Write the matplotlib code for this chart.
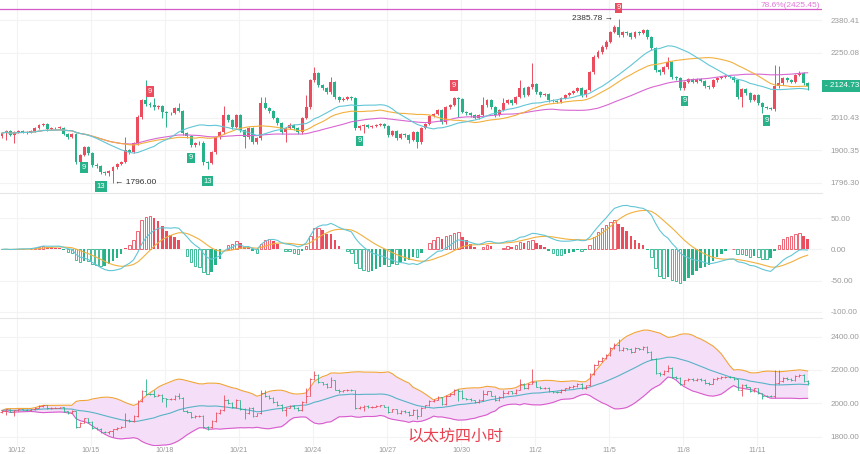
import numpy as np
import pandas as pd
import matplotlib
matplotlib.use("Agg")
import matplotlib.pyplot as plt
from matplotlib.lines import Line2D
from matplotlib.ticker import NullLocator, FuncFormatter
from matplotlib.transforms import blended_transform_factory

plt.rcParams['font.family'] = ['Liberation Sans', 'DejaVu Sans']

# 4h candles, open = previous close
first_open = 1947
closes = [1957, 1964, 1950, 1960, 1964, 1962, 1960, 1964, 1974, 1984,
          1988, 1971, 1974, 1975, 1976, 1954, 1944, 1954, 1861, 1884,
          1910, 1890, 1852, 1848, 1829, 1826, 1832, 1845, 1855, 1861,
          1900, 1894, 1923, 2012, 2072, 2058, 2054, 2047, 2051, 2030,
          2026, 2027, 2044, 2033, 1957, 1947, 1917, 1923, 1925, 1861,
          1859, 1894, 1944, 1960, 2019, 2002, 1978, 2019, 1967, 1944,
          1974, 1927, 1940, 2061, 2044, 2033, 2009, 1991, 1960, 1974,
          1984, 1974, 1960, 2009, 2047, 2145, 2172, 2127, 2116, 2101,
          2138, 2083, 2072, 2078, 2083, 2079, 1974, 1981, 1984, 1978,
          1981, 1984, 1988, 1981, 1950, 1964, 1940, 1954, 1950, 1933,
          1960, 1927, 1974, 1988, 2016, 2023, 2037, 1995, 2047, 2054,
          2079, 2076, 2030, 2026, 2019, 2009, 2019, 2054, 2072, 2047,
          2019, 2037, 2061, 2072, 2061, 2083, 2116, 2090, 2119, 2130,
          2101, 2090, 2094, 2072, 2069, 2067, 2079, 2090, 2097, 2105,
          2116, 2090, 2108, 2175, 2233, 2252, 2272, 2291, 2331, 2352,
          2319, 2331, 2327, 2311, 2331, 2327, 2339, 2311, 2268, 2183,
          2175, 2194, 2213, 2157, 2153, 2116, 2138, 2149, 2138, 2149,
          2142, 2123, 2119, 2145, 2153, 2157, 2160, 2157, 2145, 2083,
          2112, 2097, 2072, 2090, 2061, 2047, 2044, 2042, 2123, 2134,
          2153, 2145, 2138, 2164, 2172, 2134, 2124.73]
highs = [1962, 1968, 1967, 1963, 1968, 1969, 1966, 1968, 1978, 1990,
         1993, 1991, 1979, 1979, 1980, 1979, 1957, 1958, 1957, 1888,
         1915, 1914, 1893, 1858, 1852, 1834, 1837, 1849, 1858, 1866,
         1944, 1905, 1928, 2018, 2078, 2145, 2064, 2079, 2056, 2055,
         2034, 2031, 2048, 2061, 2037, 1961, 1950, 1928, 1929, 1929,
         1866, 1899, 1949, 1965, 2051, 2024, 2006, 2024, 2023, 1971,
         1979, 1978, 1945, 2083, 2083, 2049, 2037, 2013, 1995, 1979,
         1992, 1988, 1978, 2014, 2090, 2151, 2194, 2176, 2131, 2120,
         2156, 2142, 2087, 2083, 2088, 2087, 2083, 1986, 1989, 1988,
         1986, 1989, 1993, 1992, 1985, 1969, 1968, 1959, 1958, 1954,
         1965, 1964, 1979, 1993, 2021, 2028, 2042, 2041, 2052, 2060,
         2085, 2084, 2080, 2034, 2030, 2023, 2024, 2083, 2077, 2076,
         2051, 2042, 2079, 2077, 2076, 2088, 2145, 2120, 2124, 2209,
         2134, 2105, 2099, 2098, 2077, 2074, 2084, 2095, 2102, 2110,
         2121, 2120, 2113, 2181, 2239, 2259, 2279, 2298, 2338, 2360,
         2385.78, 2337, 2335, 2331, 2336, 2335, 2345, 2344, 2315, 2272,
         2188, 2199, 2233, 2217, 2162, 2157, 2143, 2154, 2153, 2154,
         2153, 2146, 2128, 2150, 2158, 2162, 2165, 2164, 2161, 2149,
         2117, 2116, 2101, 2095, 2094, 2065, 2051, 2049, 2202, 2198,
         2158, 2158, 2150, 2169, 2178, 2176, 2138]
lows = [1942, 1933, 1946, 1923, 1956, 1958, 1955, 1957, 1961, 1970,
        1980, 1966, 1967, 1970, 1971, 1950, 1938, 1940, 1855, 1856,
        1880, 1885, 1846, 1842, 1823, 1820, 1818, 1796, 1840, 1851,
        1857, 1889, 1890, 1918, 2006, 2052, 2049, 2037, 2042, 2009,
        1978, 2020, 2022, 2029, 1952, 1941, 1912, 1912, 1918, 1852,
        1840, 1854, 1889, 1938, 1955, 1997, 1972, 1974, 1961, 1907,
        1939, 1921, 1922, 1935, 2039, 2028, 2004, 1986, 1955, 1927,
        1970, 1969, 1955, 1955, 2004, 2042, 2140, 2121, 2110, 2095,
        2096, 2078, 2065, 2068, 2074, 2074, 1968, 1969, 1957, 1973,
        1974, 1977, 1980, 1976, 1945, 1946, 1935, 1936, 1945, 1923,
        1929, 1907, 1922, 1970, 1984, 2011, 2019, 1990, 1990, 2042,
        2050, 2012, 2025, 2021, 2014, 2004, 2005, 2015, 2049, 2042,
        2014, 2015, 2032, 2057, 2056, 2057, 2079, 2085, 2086, 2114,
        2096, 2085, 2086, 2067, 2064, 2062, 2063, 2075, 2086, 2093,
        2101, 2085, 2085, 2104, 2170, 2228, 2246, 2266, 2286, 2326,
        2313, 2313, 2321, 2305, 2306, 2321, 2322, 2305, 2262, 2177,
        2165, 2170, 2189, 2151, 2147, 2108, 2110, 2134, 2133, 2134,
        2137, 2117, 2113, 2115, 2140, 2149, 2153, 2152, 2140, 2078,
        2047, 2092, 2067, 2068, 2056, 2026, 2039, 2036, 2034, 2118,
        2129, 2140, 2133, 2134, 2159, 2129, 2108]

price_ticks = [1796.30, 1900.35, 2010.43, 2250.08, 2380.41]
macd_ticks = [-100, -50, 0, 50]
boll_ticks = [1800, 2000, 2200, 2400]
date_labels = ["10/12", "10/15", "10/18", "10/21", "10/24", "10/27",
               "10/30", "11/2", "11/5", "11/8", "11/11"]
fib_level = 2425.45
fib_text = "78.6%(2425.45)"
td9_top = [36, 110, 150]
td9_bottom = [20, 46, 87, 166, 186]
td13_bottom = [24, 50]

RED = '#ec4d5e'
GREEN = '#27b28a'
CYAN = '#62c6d6'
ORANGE = '#f2b03e'
MAGENTA = '#d867d2'
GRID = '#f3f3f3'
TICK = '#9a9a9a'

closes = np.array(closes, dtype=float)
highs = np.array(highs, dtype=float)
lows = np.array(lows, dtype=float)
opens = np.concatenate([[first_open], closes[:-1]])
n = len(closes)
idx = np.arange(n)
up = closes >= opens
colors = np.where(up, RED, GREEN)

W, H = 860, 454
fig = plt.figure(figsize=(W / 100, H / 100), dpi=100)


def panel(top, bottom, right=822):
    return fig.add_axes([0, 1 - bottom / H, right / W, (bottom - top) / H])


ax = panel(0, 192)
ax_macd = panel(193, 318)
ax_boll = panel(318, 446)

vgrid = 3.65 + 18 * np.arange(12)
for a in (ax, ax_macd, ax_boll):
    a.set_xlim(-0.49, 199.5)
    for s in a.spines.values():
        s.set_visible(False)
    a.set_xticks([])
    a.yaxis.tick_right()
    a.tick_params(axis='y', length=0, pad=6, labelsize=5.8, labelcolor=TICK)
    a.grid(axis='y', color=GRID, lw=0.8)
    for gx in vgrid:
        a.axvline(gx, color=GRID, lw=0.8, zorder=0)
    a.set_axisbelow(True)

# main candles
ax.set_yscale('log')
ax.set_ylim(1767.4, 2464.9)
ax.set_yticks(price_ticks)
ax.yaxis.set_minor_locator(NullLocator())
ax.yaxis.set_major_formatter(FuncFormatter(lambda v, p: f'{v:.2f}'))

body_lo = np.minimum(opens, closes)
body_h = np.maximum(np.abs(closes - opens), 1.5)
ax.vlines(idx, lows, highs, colors=colors, lw=0.7, zorder=2)
ax.bar(idx, body_h, bottom=body_lo, width=0.72, color=colors, lw=0, zorder=3)

s = pd.Series(closes)
ma20 = s.rolling(20, min_periods=1).mean()
ma30 = s.rolling(30, min_periods=1).mean()
ma60 = s.rolling(60, min_periods=1).mean()
ax.plot(idx, ma60, color=MAGENTA, lw=0.8, zorder=4)
ax.plot(idx, ma30, color=ORANGE, lw=0.8, zorder=4)
ax.plot(idx, ma20, color=CYAN, lw=0.8, zorder=4)

ax.axhline(fib_level, color='#d65ac9', lw=0.9)
tr = blended_transform_factory(ax.transAxes, ax.transData)
ax.text(0.998, fib_level, fib_text, transform=tr, ha='right', va='bottom',
        fontsize=6, color='#e27ad9')

ax.text(148.6, highs[150], '2385.78 \u2192', ha='right', va='center',
        fontsize=6, color='#333333')
ax.text(27.6, lows[27], '\u2190 1796.00', ha='left', va='center',
        fontsize=6, color='#333333')

label_box = dict(boxstyle='square,pad=0.22', ec='none')
for i in td9_top:
    ax.annotate('9', (i, highs[i]), xytext=(0, 8), textcoords='offset points',
                ha='center', va='center', fontsize=5.5, color='white',
                bbox=dict(label_box, fc=RED), zorder=6)
for i in td9_bottom:
    ax.annotate('9', (i, lows[i]), xytext=(0, -8), textcoords='offset points',
                ha='center', va='center', fontsize=5.5, color='white',
                bbox=dict(label_box, fc=GREEN), zorder=6)
for i in td13_bottom:
    ax.annotate('13', (i, lows[i]), xytext=(0, -9), textcoords='offset points',
                ha='center', va='center', fontsize=5.5, color='white',
                bbox=dict(label_box, fc=GREEN), zorder=6)

# last price tag
ax.text(1.0035, closes[-1], '- 2124.73', transform=tr, ha='left', va='center',
        fontsize=5.9, color='white', clip_on=False,
        bbox=dict(boxstyle='square,pad=0.3', fc=GREEN, ec='none'))

# MACD
dif = s.ewm(span=12, adjust=False).mean() - s.ewm(span=26, adjust=False).mean()
dea = dif.ewm(span=9, adjust=False).mean()
hist = (2 * (dif - dea)).values
prev = np.concatenate([[0], np.abs(hist[:-1])])
hollow = np.abs(hist) >= prev
hcol = np.where(hist >= 0, RED, GREEN)
ax_macd.set_ylim(-109.7, 90.3)
ax_macd.set_yticks(macd_ticks)
ax_macd.yaxis.set_major_formatter(FuncFormatter(lambda v, p: f'{v:.2f}'))
ax_macd.bar(idx[~hollow], hist[~hollow], width=0.62, color=hcol[~hollow], lw=0)
ax_macd.bar(idx[hollow], hist[hollow], width=0.62, facecolor='white',
            edgecolor=hcol[hollow], lw=0.6)
ax_macd.plot(idx, dea, color=ORANGE, lw=0.8)
ax_macd.plot(idx, dif, color=CYAN, lw=0.8)

# Bollinger
mid = s.rolling(20, min_periods=1).mean()
sd = s.rolling(20, min_periods=1).std(ddof=0)
upper = mid + 2 * sd
lower = mid - 2 * sd
ax_boll.set_ylim(1744, 2512)
ax_boll.set_yticks(boll_ticks)
ax_boll.yaxis.set_major_formatter(FuncFormatter(lambda v, p: f'{v:.2f}'))
ax_boll.fill_between(idx, lower, upper, color='#f5def8', lw=0)
ax_boll.plot(idx, upper, color='#f0a43a', lw=0.8)
ax_boll.plot(idx, lower, color='#d85ccc', lw=0.8)
ax_boll.plot(idx, mid, color='#58b3c6', lw=0.8)
ax_boll.vlines(idx, lows, highs, colors=colors, lw=0.6)
ax_boll.hlines(opens, idx - 0.4, idx, colors=colors, lw=0.6)
ax_boll.hlines(closes, idx, idx + 0.4, colors=colors, lw=0.6)

for y in (193, 318):
    fig.add_artist(Line2D([0, 822 / W], [1 - y / H] * 2, color='#e6e6e6', lw=0.8))

for k, lab in enumerate(date_labels):
    fig.text((17 + 74 * k) / W, 1 - 453.5 / H, lab, ha='center', va='bottom',
             fontsize=5.2, color=TICK)

fig.text(455 / W, 1 - 436 / H, '以太坊四小时', ha='center', va='center',
         fontsize=11.5, color='#e8404f', family=['Noto Sans CJK SC'])

fig.savefig('out.png', dpi=100)
